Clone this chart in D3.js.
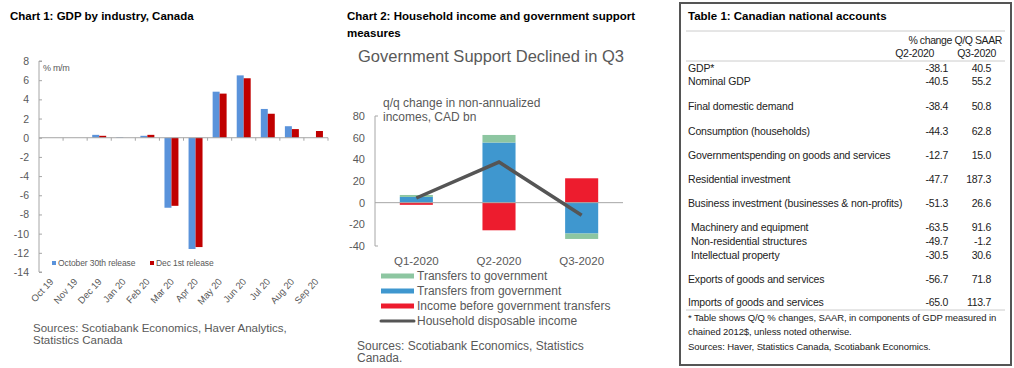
<!DOCTYPE html>
<html><head><meta charset="utf-8">
<script src="https://cdn.jsdelivr.net/npm/d3@7/dist/d3.min.js"></script>
<style>
html,body{margin:0;padding:0;background:#fff;}
svg{display:block;font-family:"Liberation Sans",Arial,sans-serif;}
</style></head><body>
<svg id="c" width="1014" height="368"></svg>
<script>
// ---------- DATA ----------
const months = ["Oct 19","Nov 19","Dec 19","Jan 20","Feb 20","Mar 20","Apr 20","May 20","Jun 20","Jul 20","Aug 20","Sep 20"];
const oct30 = [0, 0, 0.3, 0.05, 0.2, -7.3, -11.6, 4.8, 6.5, 3.0, 1.2, null];
const dec1  = [0, 0, 0.2, 0.0, 0.3, -7.1, -11.4, 4.6, 6.2, 2.5, 0.9, 0.7];
const yTicks1 = [8,6,4,2,0,-2,-4,-6,-8,-10,-12,-14];

const quarters = ["Q1-2020","Q2-2020","Q3-2020"];
const transfersTo   = [1.8, 7.0, -5.0];
const transfersFrom = [5.3, 55.5, -28.5];
const incomeBefore  = [-2.0, -25.5, 22.5];
const disposable    = [4.3, 37.5, -11.7];
const yTicks2 = [80,60,40,20,0,-20,-40];

const tableLabels = ["GDP*","Nominal GDP","Final domestic demand","Consumption (households)","Governmentspending on goods and services","Residential investment","Business investment (businesses & non-profits)","Machinery and equipment","Non-residential structures","Intellectual property","Exports of goods and services","Imports of goods and services"];
const tableQ2 = ["-38.1","-40.5","-38.4","-44.3","-12.7","-47.7","-51.3","-63.5","-49.7","-30.5","-56.7","-65.0"];
const tableQ3 = ["40.5","55.2","50.8","62.8","15.0","187.3","26.6","91.6","-1.2","30.6","71.8","113.7"];
const tableIndent = [0,0,0,0,0,0,0,1,1,1,0,0];

// ---------- DRAW ----------
const svg = d3.select("#c");
svg.append("rect").attr("width",1014).attr("height",368).attr("fill","#fff");
const gray = "#595959", axisGray = "#a6a6a6";

// ===== Chart 1 =====
svg.append("text").attr("x",10).attr("y",20).attr("font-size",11.5).attr("font-weight","bold").attr("fill","#000")
  .text("Chart 1: GDP by industry, Canada");

const x1 = d3.scaleBand().domain(months).range([39,328]).paddingInner(0.42).paddingOuter(0.21);
const xs1 = d3.scaleBand().domain(["a","b"]).range([0,x1.bandwidth()]);
const y1 = d3.scaleLinear().domain([-14,8]).range([272,61]);

const g1 = svg.append("g");
const ya1 = g1.append("g").attr("transform","translate(39,0)")
  .call(d3.axisRight(y1).tickValues(yTicks1).tickSize(3).tickFormat(""));
ya1.select(".domain").attr("stroke",axisGray).attr("d",`M3,${y1(8)}H0V${y1(-14)}H3`);
ya1.selectAll(".tick line").attr("stroke",axisGray);
g1.selectAll(".yl1").data(yTicks1).join("text")
  .attr("x",29).attr("y",d=>y1(d)+4).attr("text-anchor","end").attr("font-size",10.5).attr("fill",gray).text(d=>d);
g1.append("text").attr("x",43).attr("y",71).attr("font-size",9).attr("letter-spacing",-0.3).attr("fill",gray).text("% m/m");

const s1 = [{k:"a",v:oct30,c:"#5a93db"},{k:"b",v:dec1,c:"#c00000"}];
s1.forEach(s=>{
  g1.selectAll(null).data(months.map((m,i)=>({m,v:s.v[i]})).filter(d=>d.v!==null && d.v!==0)).join("rect")
    .attr("x",d=>x1(d.m)+xs1(s.k)).attr("width",xs1.bandwidth())
    .attr("y",d=>y1(Math.max(0,d.v))).attr("height",d=>Math.abs(y1(d.v)-y1(0)))
    .attr("fill",s.c);
});
const xa1 = g1.append("g").attr("transform",`translate(0,${y1(0)})`);
xa1.append("line").attr("x1",39).attr("x2",328).attr("stroke",axisGray);
const step1 = (328-39)/months.length;
xa1.selectAll("line.t").data(d3.range(1,months.length+1)).join("line").attr("class","t")
  .attr("x1",i=>39+i*step1).attr("x2",i=>39+i*step1).attr("y1",0).attr("y2",3).attr("stroke",axisGray);
g1.selectAll(".xl1").data(months).join("text")
  .attr("transform",d=>`translate(${x1(d)+x1.bandwidth()/2+3},${282}) rotate(-48)`)
  .attr("text-anchor","end").attr("font-size",9.5).attr("fill",gray).text(d=>d);
g1.append("rect").attr("x",52).attr("y",261).attr("width",4).attr("height",4).attr("fill","#5a93db");
g1.append("text").attr("x",58).attr("y",266).attr("font-size",8.5).attr("letter-spacing",-0.1).attr("fill",gray).text("October 30th release");
g1.append("rect").attr("x",150).attr("y",261).attr("width",4).attr("height",4).attr("fill","#c00000");
g1.append("text").attr("x",156).attr("y",266).attr("font-size",8.5).attr("letter-spacing",-0.1).attr("fill",gray).text("Dec 1st release");
g1.append("text").attr("x",33).attr("y",332).attr("font-size",11.5).attr("fill",gray).text("Sources: Scotiabank Economics, Haver Analytics,");
g1.append("text").attr("x",33).attr("y",344).attr("font-size",11.5).attr("fill",gray).text("Statistics Canada");

// ===== Chart 2 =====
svg.append("text").attr("x",347).attr("y",20).attr("font-size",11.5).attr("font-weight","bold").attr("fill","#000")
  .text("Chart 2: Household income and government support");
svg.append("text").attr("x",347).attr("y",37).attr("font-size",11.5).attr("font-weight","bold").attr("fill","#000")
  .text("measures");
svg.append("text").attr("x",358).attr("y",62).attr("font-size",16.5).attr("fill",gray)
  .text("Government Support Declined in Q3");

const x2 = d3.scaleBand().domain(quarters).range([375,623]).paddingInner(0.6).paddingOuter(0.3);
const y2 = d3.scaleLinear().domain([-40,80]).range([246,116]);
const g2 = svg.append("g");
g2.append("path").attr("d",`M378,${y2(80)}H375V${y2(-40)}H378`).attr("fill","none").attr("stroke",axisGray);
g2.selectAll(".yl2").data(yTicks2).join("text")
  .attr("x",365).attr("y",d=>y2(d)+4).attr("text-anchor","end").attr("font-size",11).attr("fill",gray).text(d=>d);
g2.append("text").attr("x",383).attr("y",107).attr("font-size",12).attr("fill",gray).text("q/q change in non-annualized");
g2.append("text").attr("x",383).attr("y",121).attr("font-size",12).attr("fill",gray).text("incomes, CAD bn");

const keys2 = ["from","to","before"];
const colors2 = {to:"#8dc6a1",from:"#3f97cf",before:"#ed1c2e"};
const rows2 = quarters.map((q,i)=>({q,to:transfersTo[i],from:transfersFrom[i],before:incomeBefore[i]}));
const stack2 = d3.stack().keys(keys2).offset(d3.stackOffsetDiverging)(rows2);
stack2.forEach(layer=>{
  g2.selectAll(null).data(layer).join("rect")
    .attr("x",d=>x2(d.data.q)).attr("width",x2.bandwidth())
    .attr("y",d=>y2(Math.max(d[0],d[1]))).attr("height",d=>Math.abs(y2(d[0])-y2(d[1])))
    .attr("fill",colors2[layer.key]);
});
g2.append("line").attr("x1",375).attr("x2",623).attr("y1",y2(0)).attr("y2",y2(0)).attr("stroke",axisGray);
g2.append("path").datum(disposable)
  .attr("d",d3.line().x((d,i)=>x2(quarters[i])+x2.bandwidth()/2).y(d=>y2(d)))
  .attr("fill","none").attr("stroke","#555555").attr("stroke-width",3.5);
g2.selectAll(".xl2").data(quarters).join("text")
  .attr("x",d=>x2(d)+x2.bandwidth()/2).attr("y",265).attr("text-anchor","middle").attr("font-size",11.5).attr("fill",gray).text(d=>d);
const leg2 = [{t:"Transfers to government",c:colors2.to},{t:"Transfers from government",c:colors2.from},{t:"Income before government transfers",c:colors2.before},{t:"Household disposable income",c:"#555555",line:true}];
leg2.forEach((l,i)=>{
  const yy = 276+i*15;
  if(l.line) g2.append("line").attr("x1",381).attr("x2",414).attr("y1",yy).attr("y2",yy).attr("stroke",l.c).attr("stroke-width",3).attr("stroke-linecap","round");
  else g2.append("rect").attr("x",381).attr("y",yy-2.5).attr("width",33).attr("height",5).attr("fill",l.c);
  g2.append("text").attr("x",417).attr("y",yy+4).attr("font-size",12).attr("fill",gray).text(l.t);
});
g2.append("text").attr("x",357).attr("y",350).attr("font-size",12).attr("fill",gray).text("Sources: Scotiabank Economics, Statistics");
g2.append("text").attr("x",357).attr("y",362).attr("font-size",12).attr("fill",gray).text("Canada.");

// ===== Table =====
const g3 = svg.append("g");
g3.append("rect").attr("x",680).attr("y",3).attr("width",331).attr("height",362).attr("fill","none").attr("stroke","#555").attr("stroke-width",2);
g3.append("text").attr("x",688).attr("y",20).attr("font-size",11.5).attr("font-weight","bold").attr("fill","#000").text("Table 1: Canadian national accounts");
g3.append("line").attr("x1",686).attr("x2",1005).attr("y1",31).attr("y2",31).attr("stroke","#ccc");
g3.append("text").attr("x",1002).attr("y",44).attr("text-anchor","end").attr("font-size",10.5).attr("letter-spacing",-0.4).attr("fill","#222").text("% change Q/Q SAAR");
g3.append("text").attr("x",934).attr("y",57).attr("text-anchor","end").attr("font-size",10.5).attr("letter-spacing",-0.3).attr("fill","#222").text("Q2-2020");
g3.append("text").attr("x",996).attr("y",57).attr("text-anchor","end").attr("font-size",10.5).attr("letter-spacing",-0.3).attr("fill","#222").text("Q3-2020");
g3.append("line").attr("x1",686).attr("x2",1005).attr("y1",61).attr("y2",61).attr("stroke","#ccc");
const rowY = [72,85,110,135,159,183,207,231,245,259,283,306];
tableLabels.forEach((lab,i)=>{
  g3.append("text").attr("x",688+tableIndent[i]*3).attr("y",rowY[i]).attr("font-size",10.5).attr("letter-spacing",-0.15).attr("fill","#222").text(lab);
  g3.append("text").attr("x",948).attr("y",rowY[i]).attr("text-anchor","end").attr("font-size",10.5).attr("letter-spacing",-0.3).attr("fill","#222").text(tableQ2[i]);
  g3.append("text").attr("x",991).attr("y",rowY[i]).attr("text-anchor","end").attr("font-size",10.5).attr("letter-spacing",-0.3).attr("fill","#222").text(tableQ3[i]);
});
g3.append("line").attr("x1",686).attr("x2",1005).attr("y1",310).attr("y2",310).attr("stroke","#ccc");
const foot = ["* Table shows Q/Q % changes, SAAR, in components of GDP measured in","chained 2012$, unless noted otherwise.","Sources: Haver, Statistics Canada, Scotiabank Economics."];
[321,335,350].forEach((yy,i)=>{
  g3.append("text").attr("x",688).attr("y",yy).attr("font-size",9.5).attr("letter-spacing",-0.1).attr("fill","#222").text(foot[i]);
});
</script>
</body></html>
